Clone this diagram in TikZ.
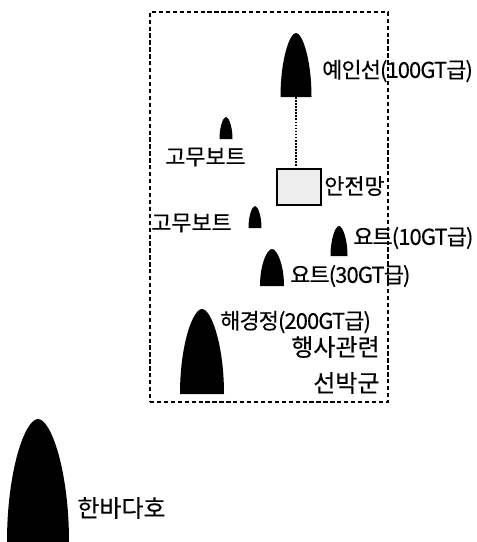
\documentclass[tikz,border=0pt]{standalone}
\usepackage{fontspec}
\setmainfont{Noto Sans CJK KR}[FakeBold=0.25]
\newcommand{\boatshape}[5]{%
  \fill[black] (#2-#4,#5) .. controls (#2-#4,#3+0.42*#5-0.42*#3) and (#2-0.42*#4,#3) .. (#2,#3)
     .. controls (#2+0.42*#4,#3) and (#2+#4,#3+0.42*#5-0.42*#3) .. (#2+#4,#5) -- cycle;
  \coordinate (#1) at (#2,#5);}
\tikzset{
  lbl/.style={anchor=west,inner sep=0pt,font=\fontsize{16.4pt}{18pt}\selectfont,text=black},
  lblbig/.style={lbl,font=\fontsize{18pt}{20pt}\selectfont},
  grp/.style={draw=black,line width=1pt,dash pattern=on 3.2pt off 2pt},
  netbox/.style={draw=black,line width=1.5pt,fill=black!7,minimum width=33pt,minimum height=27pt,inner sep=0pt},
  link/.style={draw=black,line width=1.6pt,dash pattern=on 1.2pt off 1.1pt}
}
\begin{document}
\begin{tikzpicture}[x=0.75pt,y=-0.75pt]
\useasboundingbox (0,0) rectangle (476,542);
\node[grp,minimum width=178.5pt,minimum height=292.5pt,inner sep=0pt] (group) at (269,207) {};
\boatshape{tug}{296}{33}{15.5}{97}
\boatshape{rubberA}{226}{117}{6.5}{139}
\boatshape{rubberB}{255}{206}{6.5}{228}
\boatshape{yachtA}{339}{226}{8.5}{256}
\boatshape{yachtB}{272}{249}{12}{286}
\boatshape{guard}{202}{309}{22}{394}
\boatshape{hanbada}{38}{419}{31}{542}
\node[netbox] (net) at (298.5,186.5) {};
\draw[link] (tug) -- (tug |- net.north);
\node[lbl] (t1) at (322,71) {\addfontfeature{LetterSpace=-4}예인선(100GT급)};
\node[lbl] (t2) at (165,157) {고무보트};
\node[lbl] (t3) at (324,186) {안전망};
\node[lbl] (t4) at (151,223) {고무보트};
\node[lbl] (t5) at (353,238) {\addfontfeature{LetterSpace=-4}요트(10GT급)};
\node[lbl] (t6) at (290,276) {\addfontfeature{LetterSpace=-4}요트(30GT급)};
\node[lbl] (t7) at (220,322) {\addfontfeature{LetterSpace=-4}해경정(200GT급)};
\node[lblbig] (t8) at (291,347) {행사관련};
\node[lblbig] (t9) at (313,383) {선박군};
\node[lblbig] (t10) at (77,508) {한바다호};
\end{tikzpicture}
\end{document}
